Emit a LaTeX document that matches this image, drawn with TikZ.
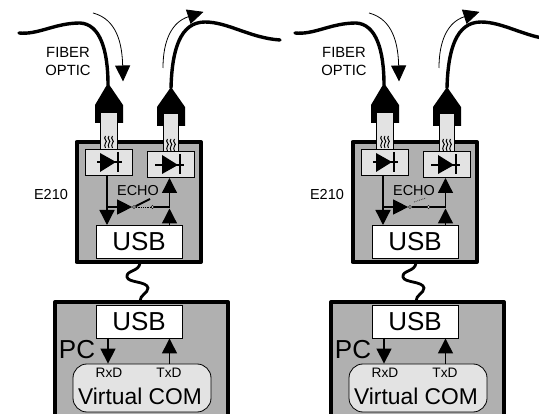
\documentclass[tikz,border=0pt]{standalone}
\usepackage{fontspec}
\setmainfont{Liberation Sans}
\usetikzlibrary{arrows.meta}
\definecolor{boxgray}{rgb}{0.69,0.69,0.69}
\definecolor{lightgray}{rgb}{0.89,0.89,0.89}
\newcommand{\sz}[1]{\fontsize{#1}{#1}\selectfont}
\tikzset{
  unit/.style={draw,line width=4pt,fill=boxgray,line join=round},
  ledbox/.style={draw,line width=0.9pt,fill=lightgray,minimum width=47pt,minimum height=26pt,inner sep=0pt},
  usbbox/.style={draw,line width=0.9pt,fill=white,minimum width=86pt,minimum height=33pt,inner sep=0pt,font=\sz{26}},
  fiber/.style={line width=3.4pt,line cap=round},
  flow/.style={line width=0.8pt,-{Triangle[length=16pt,width=15pt]},shorten >=-0.5pt},
  sig/.style={line width=1.3pt,-{Triangle[length=15pt,width=15pt]}},
  wire/.style={line width=1.3pt},
  stub/.style={draw,line width=0.8pt,fill=lightgray},
  contact/.style={circle,draw,line width=0.7pt,fill=white,minimum size=3pt,inner sep=0pt}
}
\begin{document}
\begin{tikzpicture}[x=1pt,y=-1pt,line cap=butt,line join=miter]
  \useasboundingbox (0,0) rectangle (539,414);
  \clip (0,0) rectangle (539,414);
  \foreach \dx/\n in {0/a,276/b} {
    \begin{scope}[xshift=\dx pt]
      % fibers and plugs
      \draw [fiber] (19,33) .. controls (38,35) and (55,23) .. (80,23) .. controls (100,24) and (108,50) .. (108,85);
      \draw [fiber] (171,88) .. controls (172,50) and (180,22) .. (205,22) .. controls (228,22) and (250,38) .. (280,40);
      \fill (108,83) -- (123,105) -- (123,123) -- (95,123) -- (95,105) -- cycle;
      \fill (171,87) -- (185,107) -- (185,126) -- (157,126) -- (157,107) -- cycle;
      \draw [flow] (93,13) .. controls (112,18) and (122,35) .. (123,81);
      \draw [flow] (163,68) .. controls (163,40) and (172,22) .. (203,12);
      \node [font=\sz{14.8},align=center,inner sep=0pt] (fiber\n) at (68,61.5) {FIBER\\[3.5pt]OPTIC};
      % E210 unit
      \draw [unit] (76.5,142) rectangle (201,262);
      \node [font=\sz{14.5},inner sep=0pt] (e\n) at (51,195) {E210};
      \node [ledbox] (rx\n) at (108.5,162) {};
      \node [ledbox] (tx\n) at (170.5,164.5) {};
      \draw [stub] (100,112) rectangle (117,149);
      \draw [stub] (163,113) rectangle (178,151);
      \foreach \wx in {105.5,109,112.5} {
        \draw [line width=1pt] (\wx,136) .. controls (\wx-3,139) and (\wx+3,141) .. (\wx,143) .. controls (\wx-1,145) and (\wx-1,146) .. (\wx,148);
        \draw [line width=1pt] (\wx+62,139) .. controls (\wx+59,142) and (\wx+65,144) .. (\wx+62,146) .. controls (\wx+61,148) and (\wx+61,149) .. (\wx+62,151);
      }
      % diodes
      \draw [wire] (97,162) -- (122,162);
      \fill (100,153) -- (116,162) -- (100,172) -- cycle;
      \draw [line width=1.8pt] (118,152) -- (118,172);
      \draw [wire] (155,165) -- (184,165);
      \fill (162,155) -- (178,165) -- (162,174) -- cycle;
      \draw [line width=1.8pt] (180,154) -- (180,174);
      \node [usbbox] (usb\n) at (139,241.5) {USB};
      \node [font=\sz{14.4},inner sep=0pt,anchor=base] (echo\n) at (138,196) {ECHO};
      % signal paths
      \coordinate (rxout\n) at (107,175);
      \coordinate (split\n) at (107,207);
      \coordinate (usbin\n) at (107,225);
      \coordinate (join\n) at (169.5,207);
      \coordinate (txin\n) at (169.5,178);
      \coordinate (usbout\n) at (169.5,225);
      \coordinate (top\n) at (169.5,208.5);
      \node [contact] (swa\n) at (134,207) {};
      \node [contact] (swb\n) at (152.5,207) {};
      \draw [wire] (rxout\n) -- (split\n);
      \draw [sig] (split\n) -- (usbin\n);
      \draw [sig] (split\n) -- (swa\n.west);
      \draw [wire] (swb\n) -- (join\n);
      \draw [sig] (join\n) -- (txin\n);
      \draw [sig] (usbout\n) -- (top\n);
      % cable
      \draw [fiber,line width=2.8pt,line cap=butt] (140,263) .. controls (139,272) and (126,270) .. (127,277) .. controls (128,283) and (147,281) .. (148,288) .. controls (148,293) and (140,295) .. (140,301);
      % PC unit
      \draw [unit] (55,302) rectangle (228,430);
      \node [usbbox] (pcusb\n) at (139,321.5) {USB};
      \node [font=\sz{26},inner sep=0pt] (pc\n) at (77,350) {PC};
      \node [draw,line width=0.8pt,fill=lightgray,rounded corners=14pt,minimum width=138pt,minimum height=48pt,inner sep=0pt] (com\n) at (142,388) {};
      \node [font=\sz{13.7},inner sep=0pt,anchor=base] (rxd\n) at (109,378) {RxD};
      \node [font=\sz{13.7},inner sep=0pt,anchor=base] (txd\n) at (169,378) {TxD};
      \node [font=\sz{22.8},inner sep=0pt,anchor=base] (vcom\n) at (140,405) {Virtual COM};
      \coordinate (pcrx\n) at (108,338);
      \coordinate (pctx\n) at (169.5,364);
      \draw [sig] (pcrx\n) -- (pcrx\n |- com\n.north);
      \draw [sig] (pctx\n) -- (pctx\n |- pcusb\n.south);
    \end{scope}
  }
  % echo switch, open on the left and closed on the right
  \draw [line width=1.8pt] (swaa) -- (150,199);
  \draw [line width=0.8pt,densely dotted] (swaa) -- (swba);
  \draw [line width=2.4pt] (swab.east) -- (swbb.west);
  \draw [line width=0.8pt,densely dotted,gray!50!black] (414,202) -- (426,198);
\end{tikzpicture}
\end{document}
